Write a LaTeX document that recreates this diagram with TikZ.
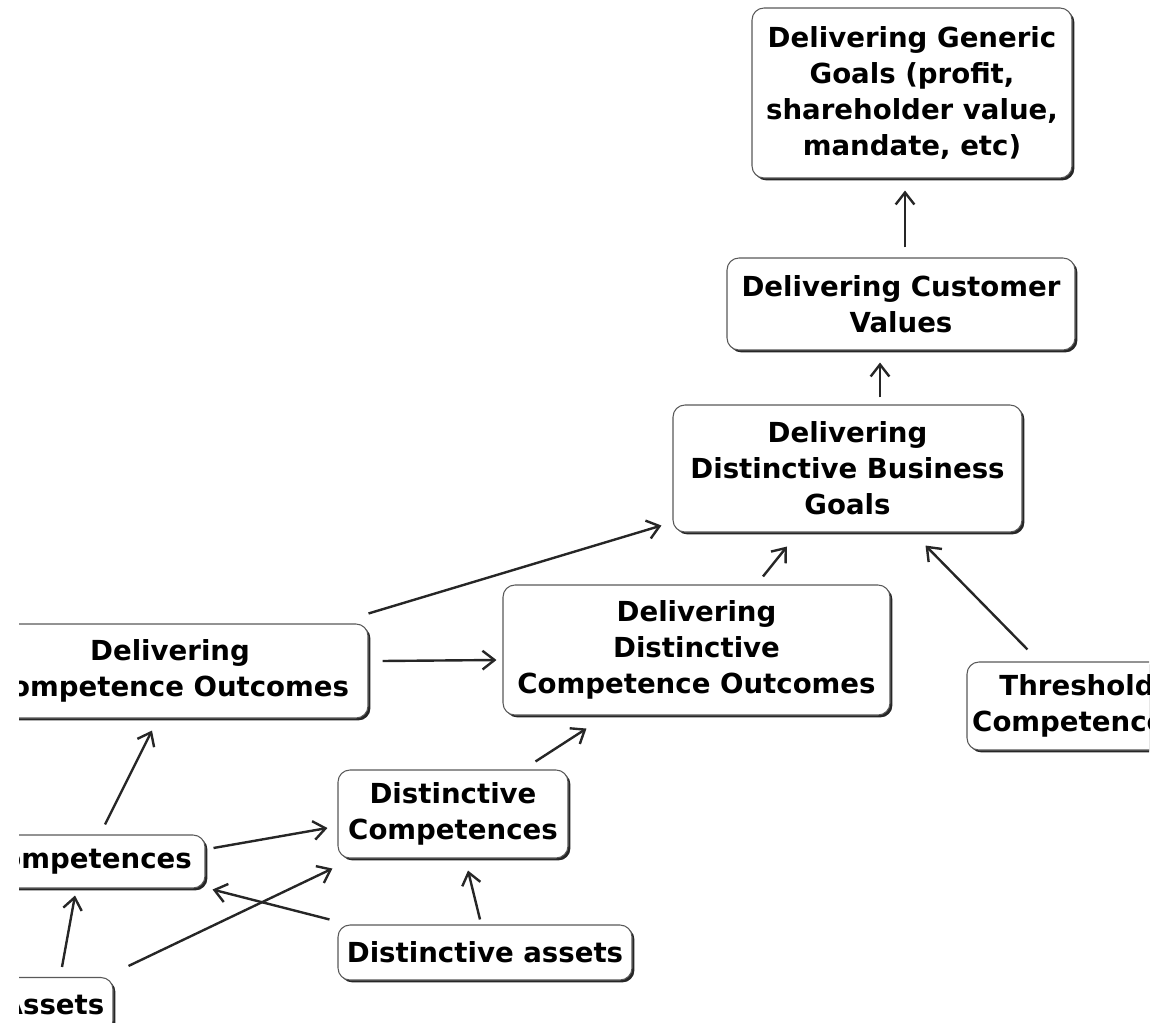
\documentclass[tikz,border=0pt]{standalone}
\usepackage{fontspec}
\newfontfamily\boxfont{DejaVu Sans}
\usetikzlibrary{arrows.meta,shadows,calc}

\tikzset{
  concept/.style={draw=black!65, line width=0.8pt, rounded corners=9pt, fill=white,
    align=center, inner sep=2pt,
    font=\boxfont\bfseries\fontsize{20.7pt}{27pt}\selectfont,
    drop shadow={shadow xshift=1.8pt, shadow yshift=-1.8pt, fill=black!85, opacity=1}},
  link/.style={line width=1.8pt, draw=black!85,
    -{Straight Barb[length=9pt,width=14pt,line width=1.8pt]}}
}

\begin{document}
\begin{tikzpicture}[x=0.75pt,y=0.75pt,yscale=-1,xscale=1]
\useasboundingbox (0,0) rectangle (1175,1023);
\clip (19,0) rectangle (1149,1023);

% Text Node
\node [concept, minimum width=240pt, minimum height=127.5pt] (generic) at (912,93) {Delivering Generic\\Goals (profit,\\shareholder value,\\mandate, etc)};
% Text Node
\node [concept, minimum width=261pt, minimum height=69pt] (custval) at (901,304) {Delivering Customer\\Values};
% Text Node
\node [concept, minimum width=261.75pt, minimum height=95.25pt] (bizgoals) at (847.5,468.5) {Delivering\\Distinctive Business\\Goals};
% Text Node
\node [concept, minimum width=290.25pt, minimum height=97.5pt] (dco) at (696.5,650) {Delivering\\Distinctive\\Competence Outcomes};
% Text Node
\node [concept, minimum width=297pt, minimum height=70.5pt] (co) at (170,671) {Delivering\\Competence Outcomes};
% Text Node
\node [concept, minimum width=165pt, minimum height=66pt] (thresh) at (1077,706) {Threshold\\Competences};
% Text Node
\node [concept, minimum width=172.5pt, minimum height=66pt] (dc) at (453,814) {Distinctive\\Competences};
% Text Node
\node [concept, minimum width=177pt, minimum height=39.75pt] (comp) at (87,861.5) {Competences};
% Text Node
\node [concept, minimum width=220.5pt, minimum height=41.25pt] (da) at (485,952.5) {Distinctive assets};
% Text Node
\node [concept, minimum width=90pt, minimum height=41.25pt] (assets) at (53,1005) {Assets};

%Straight Lines
\draw [link] ($(custval.north)+(4,-10)$) -- ($(generic.south)+(-7,12)$);
\draw [link] ($(bizgoals.north)+(32.5,-7)$) -- ($(custval.south)+(-21,12)$);
\draw [link] ($(co.north east)+(0,-10)$) -- ($(bizgoals.south west)+(-11,-7)$);
\draw [link] ($(co.east)+(14,-10)$) -- ($(dco.west)+(-6,10)$);
\draw [link] ($(dco.north)+(66.5,-8)$) -- ($(bizgoals.south)+(-60.5,14)$);
\draw [link] ($(thresh.north west)+(61,-12)$) -- ($(bizgoals.south east)+(-97,13)$);
%Straight Lines
\draw [link] ($(comp.north)+(18,-10)$) -- ($(co.south)+(-18,12)$);
\draw [link] ($(comp.east)+(8,-13.5)$) -- ($(dc.west)+(-10,14)$);
\draw [link] ($(dc.north east)+(-33,-8)$) -- ($(dco.south west)+(84,13)$);
\draw [link] ($(assets.north east)+(15,-11)$) -- ($(dc.south west)+(-5,10)$);
\draw [link] ($(da.north west)+(-8,-5)$) -- ($(comp.south east)+(7,1)$);
\draw [link] ($(da.north)+(-5,-5)$) -- ($(dc.south)+(15,12)$);
\draw [link] ($(assets.north)+(9,-10)$) -- ($(comp.south)+(-12,7)$);

\end{tikzpicture}
\end{document}
